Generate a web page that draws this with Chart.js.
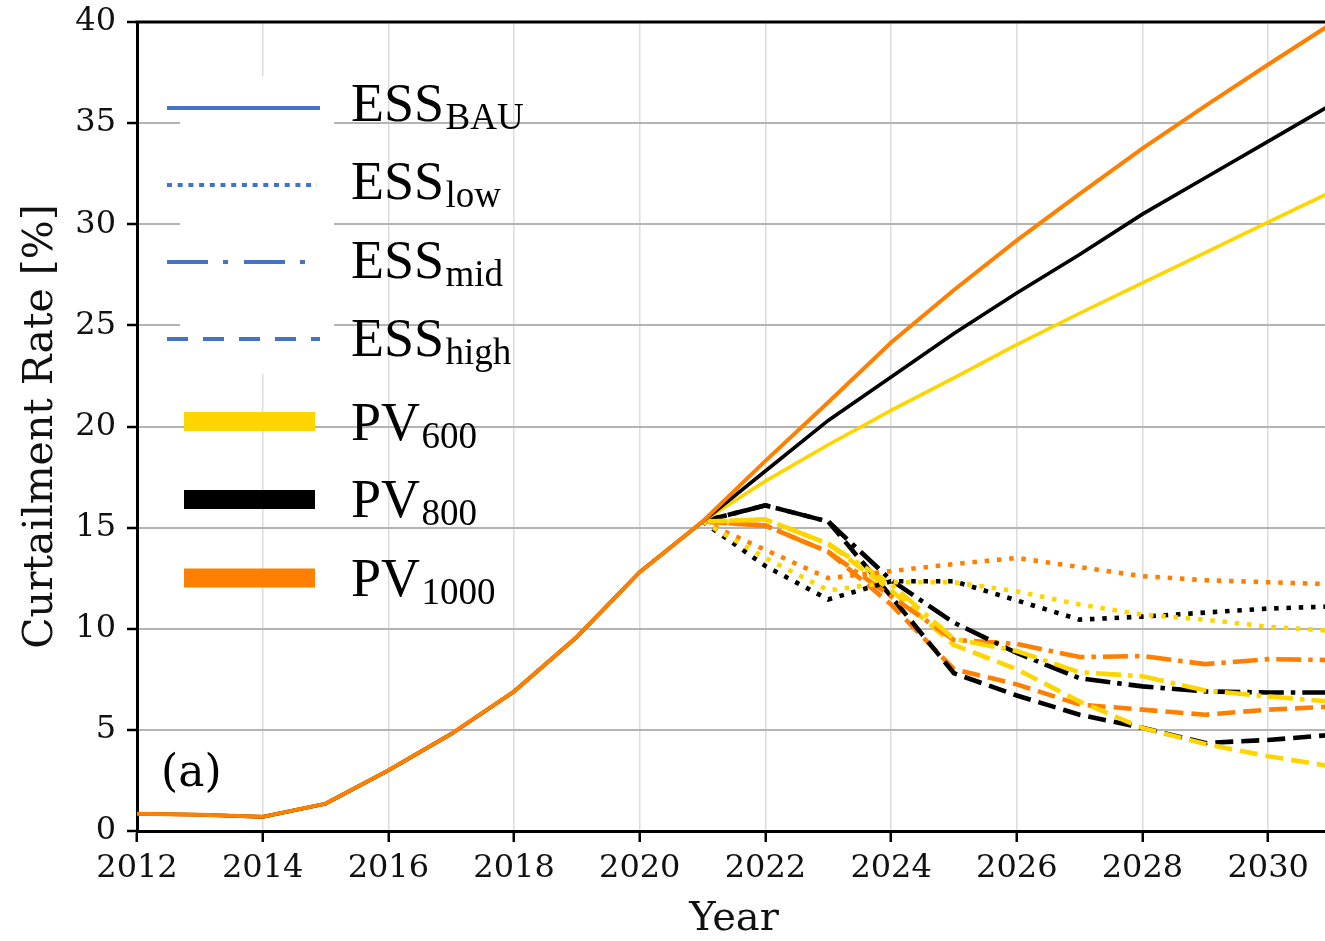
<!DOCTYPE html>
<html>
<head>
<meta charset="utf-8">
<script src="https://cdn.jsdelivr.net/npm/chart.js@4.4.1/dist/chart.umd.min.js"></script>
<style>
    html, body { margin: 0; padding: 0; background: #fff; overflow: hidden; }
    #wrap { position: relative; width: 1331px; height: 941px; }
</style>
</head>
<body>
<div id="wrap"><canvas id="chart" width="1331" height="941"></canvas></div>
<script>
/* =====================
   DATA
===================== */
const years = [2012, 2013, 2014, 2015, 2016, 2017, 2018, 2019, 2020, 2021,
               2022, 2023, 2024, 2025, 2026, 2027, 2028, 2029, 2030, 2031];

// observed 2012-2021
const history = [0.85, 0.8, 0.7, 1.35, 3.0, 4.8, 6.9, 9.6, 12.8, 15.3];

// scenarios 2021-2031
const pv600Bau  = [15.3, 17.3, 19.1, 20.8, 22.4, 24.05, 25.6, 27.1, 28.6, 30.1, 31.6];
const pv800Bau  = [15.3, 17.8, 20.3, 22.45, 24.6, 26.6, 28.5, 30.5, 32.3, 34.1, 35.9];
const pv1000Bau = [15.3, 18.3, 21.2, 24.15, 26.75, 29.2, 31.5, 33.75, 35.85, 37.9, 39.9];

const pv600Low  = [15.3, 13.5, 11.9, 12.3, 12.3, 11.85, 11.2, 10.7, 10.45, 10.1, 9.9];
const pv800Low  = [15.3, 13.1, 11.45, 12.35, 12.35, 11.4, 10.45, 10.6, 10.8, 11.0, 11.1];
const pv1000Low = [15.3, 13.9, 12.5, 12.85, 13.2, 13.5, 13.05, 12.6, 12.4, 12.3, 12.2];

const pv600Mid  = [15.3, 15.4, 14.2, 12.2, 9.5, 8.9, 7.85, 7.65, 6.95, 6.65, 6.4];
const pv800Mid  = [15.3, 16.1, 15.3, 12.4, 10.3, 8.8, 7.55, 7.15, 6.9, 6.85, 6.85];
const pv1000Mid = [15.3, 15.1, 13.8, 11.6, 9.45, 9.25, 8.6, 8.65, 8.25, 8.5, 8.45];

const pv600High  = [15.3, 15.4, 14.2, 11.9, 9.2, 8.0, 6.4, 5.1, 4.3, 3.7, 3.2];
const pv800High  = [15.3, 16.1, 15.3, 11.6, 7.8, 6.7, 5.75, 5.1, 4.35, 4.5, 4.75];
const pv1000High = [15.3, 15.1, 13.8, 11.2, 8.0, 7.25, 6.25, 6.0, 5.75, 6.0, 6.15];

const legendMain = ['ESS', 'ESS', 'ESS', 'ESS', 'PV', 'PV', 'PV'];
const legendSub  = ['BAU', 'low', 'mid', 'high', '600', '800', '1000'];

/* =====================
   STYLES
===================== */
const YELLOW = '#FFD500';
const BLACK = '#000000';
const ORANGE = '#FF8000';
const BLUE = '#4472C4';

const DASH_LOW = [4.5, 7.8];
const DASH_MID = [25, 7, 4.5, 7];
const DASH_HIGH = [18, 8];

// scenario arrays start at 2021, index 9 of years
const toPoints = (values, offset) => values.map((y, i) => ({ x: years[i + offset], y }));
const bauSeries = (values) => toPoints(history.concat(values.slice(1)), 0);
const scenSeries = (values) => toPoints(values, history.length - 1);

const line = (data, color, dash, width, order) => ({
    data,
    borderColor: color,
    borderDash: dash,
    borderWidth: width,
    borderCapStyle: 'butt',
    borderJoinStyle: 'miter',
    pointRadius: 0,
    tension: 0,
    fill: false,
    order,
});

const W = 4.6;
const datasets = [
    line(scenSeries(pv600Low), YELLOW, DASH_LOW, W, 3),
    line(scenSeries(pv800Low), BLACK, DASH_LOW, W, 3),
    line(scenSeries(pv1000Low), ORANGE, DASH_LOW, W, 3),
    line(scenSeries(pv600Mid), YELLOW, DASH_MID, W, 3),
    line(scenSeries(pv800Mid), BLACK, DASH_MID, W, 3),
    line(scenSeries(pv1000Mid), ORANGE, DASH_MID, W, 3),
    line(scenSeries(pv600High), YELLOW, DASH_HIGH, W, 3),
    line(scenSeries(pv800High), BLACK, DASH_HIGH, W, 3),
    line(scenSeries(pv1000High), ORANGE, DASH_HIGH, W, 3),
    line(bauSeries(pv600Bau), YELLOW, [], 3.6, 2),
    line(bauSeries(pv800Bau), BLACK, [], 3.6, 1),
    line(bauSeries(pv1000Bau), ORANGE, [], 4, 0),
];

/* =====================
   PLUGINS
===================== */
const framePlugin = {
    id: 'frame',
    beforeDatasetsDraw(chart) {
        const { ctx, chartArea } = chart;
        ctx.save();
        // white legend backing (covers grid)
        ctx.fillStyle = '#fff';
        ctx.fillRect(180, 76, 154, 298);
        // top frame line
        ctx.strokeStyle = '#000';
        ctx.lineWidth = 3;
        ctx.beginPath();
        ctx.moveTo(chartArea.left - 1.5, chartArea.top);
        ctx.lineTo(chartArea.right, chartArea.top);
        ctx.stroke();
        ctx.restore();
    },
};

const legendPlugin = {
    id: 'customLegend',
    afterDraw(chart) {
        const { ctx } = chart;
        ctx.save();

        // ESS samples
        const essY = [108, 185, 262, 339];
        const essDash = [[], [5, 5.7], [41, 15, 5, 16], [21, 15]];
        const essEnd = [320, 317, 320, 320];
        ctx.strokeStyle = BLUE;
        ctx.lineWidth = 4;
        ctx.lineCap = 'butt';
        essY.forEach((y, i) => {
            ctx.setLineDash(essDash[i]);
            ctx.beginPath();
            ctx.moveTo(167, y);
            ctx.lineTo(essEnd[i], y);
            ctx.stroke();
        });
        ctx.setLineDash([]);

        // PV samples
        const pvY = [421.5, 499.5, 578];
        const pvColor = [YELLOW, BLACK, ORANGE];
        pvY.forEach((y, i) => {
            ctx.fillStyle = pvColor[i];
            ctx.fillRect(184, y - 9.5, 131, 19);
        });

        // labels
        const baselines = [121, 199, 278, 356, 440, 517, 596];
        ctx.fillStyle = '#000';
        ctx.textBaseline = 'alphabetic';
        ctx.textAlign = 'left';
        legendMain.forEach((txt, i) => {
            ctx.font = '54px "Liberation Serif"';
            ctx.fillText(txt, 351, baselines[i]);
            const w = ctx.measureText(txt).width;
            ctx.font = '37px "Liberation Serif"';
            ctx.fillText(legendSub[i], 351 + w + 1.5, baselines[i] + 7.5);
        });

        // panel tag
        ctx.font = '44px "DejaVu Serif"';
        ctx.fillText('(a)', 161, 786);
        ctx.restore();
    },
};

/* =====================
   CHART
===================== */
const serif = 'DejaVu Serif';

new Chart(document.getElementById('chart'), {
    type: 'line',
    data: { datasets },
    options: {
        responsive: false,
        animation: false,
        layout: { padding: { top: 22, left: 0, right: 0, bottom: 0 } },
        plugins: {
            legend: { display: false },
            tooltip: { enabled: false },
        },
        scales: {
            x: {
                type: 'linear',
                min: 2012,
                max: 2031,
                afterFit: (s) => { s.height = 110; },
                border: { color: '#000', width: 3 },
                grid: {
                    color: '#dcdcdc',
                    lineWidth: 1.5,
                    tickColor: '#000',
                    tickWidth: 2.5,
                    tickLength: 11,
                },
                ticks: {
                    stepSize: 2,
                    includeBounds: false,
                    maxRotation: 0,
                    autoSkip: false,
                    color: '#111',
                    padding: 7,
                    font: { family: serif, size: 32 },
                    callback: (v) => String(v),
                },
                title: {
                    display: true,
                    text: 'Year',
                    color: '#111',
                    font: { family: serif, size: 40 },
                    padding: { top: 0, bottom: -3 },
                },
            },
            y: {
                min: 0,
                max: 40,
                afterFit: (s) => {
                    s.width = 137;
                    s.paddingTop = 0;
                    s.paddingBottom = 0;
                },
                border: { color: '#000', width: 3 },
                grid: {
                    color: '#b4b4b4',
                    lineWidth: 2,
                    tickColor: '#000',
                    tickWidth: 2.5,
                    tickLength: 10,
                },
                ticks: {
                    stepSize: 5,
                    color: '#111',
                    padding: 11,
                    font: { family: serif, size: 32 },
                },
                title: {
                    display: true,
                    text: 'Curtailment Rate [%]',
                    color: '#111',
                    font: { family: serif, size: 41 },
                    padding: { top: 17, bottom: 0 },
                },
            },
        },
    },
    plugins: [framePlugin, legendPlugin],
});
</script>
</body>
</html>
